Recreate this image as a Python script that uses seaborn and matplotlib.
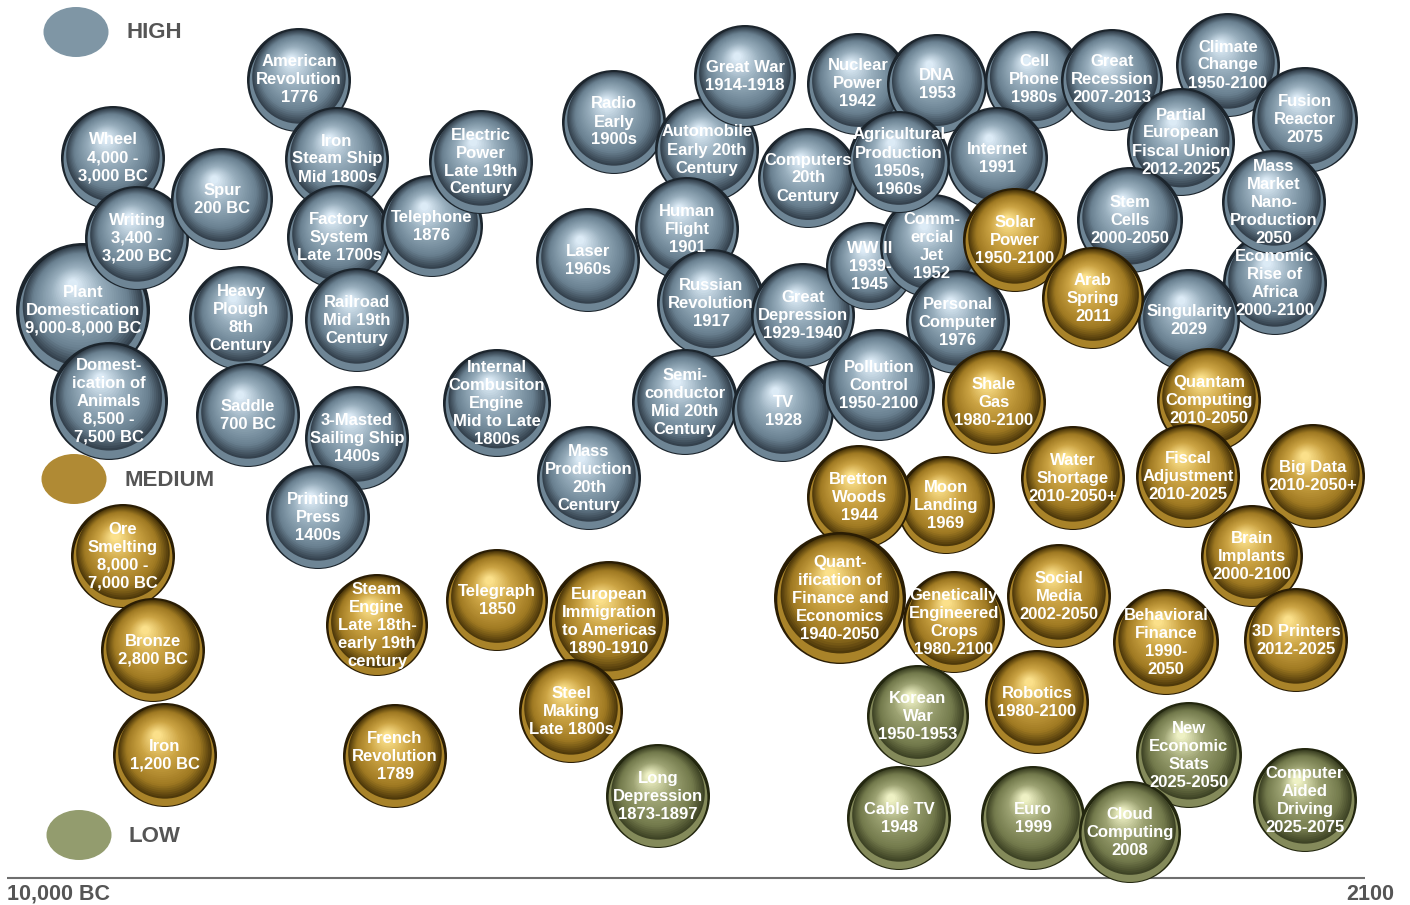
import matplotlib

matplotlib.use("Agg")
import matplotlib.pyplot as plt
import numpy as np
import pandas as pd
import seaborn as sns
from matplotlib.colors import to_rgb
from matplotlib.patches import Ellipse

DPI = 100
WIDTH, HEIGHT = 1410, 905
FONT = ["Liberation Sans", "DejaVu Sans"]

# ---- HIGH impact events (blue-grey) ----
HIGH_LABELS = [
    "American\nRevolution\n1776", "Wheel\n4,000 -\n3,000 BC", "Plant\nDomestication\n9,000-8,000 BC",
    "Writing\n3,400 -\n3,200 BC", "Spur\n200 BC", "Domest-\nication of\nAnimals\n8,500 -\n7,500 BC",
    "Heavy\nPlough\n8th\nCentury", "Saddle\n700 BC", "Iron\nSteam Ship\nMid 1800s",
    "Factory\nSystem\nLate 1700s", "Railroad\nMid 19th\nCentury", "3-Masted\nSailing Ship\n1400s",
    "Printing\nPress\n1400s", "Telephone\n1876", "Electric\nPower\nLate 19th\nCentury",
    "Internal\nCombusiton\nEngine\nMid to Late\n1800s", "Laser\n1960s", "Mass\nProduction\n20th\nCentury",
    "Radio\nEarly\n1900s", "Automobile\nEarly 20th\nCentury", "Great War\n1914-1918",
    "Human\nFlight\n1901", "Russian\nRevolution\n1917", "Semi-\nconductor\nMid 20th\nCentury",
    "Great\nDepression\n1929-1940", "TV\n1928", "Nuclear\nPower\n1942", "DNA\n1953",
    "Cell\nPhone\n1980s", "Internet\n1991", "Computers\n20th\nCentury", "WW II\n1939-\n1945",
    "Comm-\nercial\nJet\n1952", "Agricultural\nProduction\n1950s,\n1960s", "Personal\nComputer\n1976",
    "Pollution\nControl\n1950-2100", "Great\nRecession\n2007-2013", "Climate\nChange\n1950-2100",
    "Partial\nEuropean\nFiscal Union\n2012-2025", "Fusion\nReactor\n2075", "Stem\nCells\n2000-2050",
    "Economic\nRise of\nAfrica\n2000-2100", "Mass\nMarket\nNano-\nProduction\n2050", "Singularity\n2029",
]
HIGH_X = [299, 113, 83, 137, 222, 109, 241, 248, 337, 339, 357, 357, 318, 432, 481,
          497, 588, 589, 614, 707, 745, 687, 711, 685, 803, 783, 858, 937, 1034, 997,
          808, 870, 932, 899, 958, 879, 1112, 1228, 1181, 1305, 1130, 1275, 1274, 1189]
HIGH_Y = [80, 158, 310, 238, 199, 401, 318, 415, 159, 237, 320, 438, 517, 226, 162,
          403, 260, 478, 122, 150, 76, 229, 303, 402, 315, 411, 84, 84, 80, 158,
          178, 266, 246, 162, 322, 385, 80, 65, 142, 120, 220, 283, 202, 320]
HIGH_R = [52, 52, 67, 52, 51, 59, 52, 52, 52, 52, 52, 52, 52, 51, 52,
          54, 52, 52, 52, 52, 51, 52, 54, 53, 52, 51, 51, 50, 49, 51,
          50, 44, 52, 51, 52, 56, 51, 52, 54, 53, 53, 52, 52, 51]

# ---- MEDIUM impact events (gold) ----
MEDIUM_LABELS = [
    "Solar\nPower\n1950-2100", "Arab\nSpring\n2011", "Shale\nGas\n1980-2100", "Quantam\nComputing\n2010-2050",
    "Water\nShortage\n2010-2050+", "Fiscal\nAdjustment\n2010-2025", "Big Data\n2010-2050+",
    "Brain\nImplants\n2000-2100", "Moon\nLanding\n1969", "Bretton\nWoods\n1944",
    "Genetically\nEngineered\nCrops\n1980-2100", "Quant-\nification of\nFinance and\nEconomics\n1940-2050",
    "Social\nMedia\n2002-2050", "Behavioral\nFinance\n1990-\n2050", "3D Printers\n2012-2025",
    "Robotics\n1980-2100", "Ore\nSmelting\n8,000 -\n7,000 BC", "Bronze\n2,800 BC", "Iron\n1,200 BC",
    "Steam\nEngine\nLate 18th-\nearly 19th\ncentury", "Telegraph\n1850",
    "European\nImmigration\nto Americas\n1890-1910", "Steel\nMaking\nLate 1800s", "French\nRevolution\n1789",
]
MEDIUM_X = [1015, 1093, 994, 1209, 1073, 1188, 1313, 1252, 946, 859, 954, 840,
            1059, 1166, 1296, 1037, 123, 153, 165, 377, 497, 609, 571, 395]
MEDIUM_Y = [240, 298, 402, 400, 478, 476, 476, 556, 505, 497, 622, 598,
            596, 642, 640, 702, 556, 650, 755, 625, 600, 621, 711, 756]
MEDIUM_R = [52, 51, 52, 52, 52, 52, 52, 51, 49, 52, 51, 66,
            52, 53, 52, 52, 52, 52, 52, 51, 51, 60, 52, 52]

# ---- LOW impact events (olive) ----
LOW_LABELS = [
    "Long\nDepression\n1873-1897", "Korean\nWar\n1950-1953", "Cable TV\n1948", "Euro\n1999",
    "New\nEconomic\nStats\n2025-2050", "Cloud\nComputing\n2008", "Computer\nAided\nDriving\n2025-2075",
]
LOW_X = [658, 918, 899, 1033, 1189, 1130, 1305]
LOW_Y = [796, 716, 818, 818, 755, 832, 800]
LOW_R = [52, 51, 52, 52, 53, 51, 52]

LEVELS = ["HIGH", "MEDIUM", "LOW"]
LEGEND_COLORS = {"HIGH": "#7f96a5", "MEDIUM": "#b08a34", "LOW": "#939c6e"}
LEGEND_POS = {"HIGH": (76, 32), "MEDIUM": (74, 479), "LOW": (79, 835)}

# shading stops per level: outline, bottom rim, shell, body, light, highlight
SHADES = {
    "HIGH": ["#1c252d", "#6e8595", "#34414d", "#6a8191", "#98aebd", "#dcebf6"],
    "MEDIUM": ["#2a1d04", "#a98329", "#4e390a", "#a07a22", "#cca444", "#fbe08a"],
    "LOW": ["#23270f", "#848a5a", "#3e4325", "#737a4c", "#9ca272", "#eef1c4"],
}
N_LAYERS = 30


def mix(c1, c2, t):
    a, b = np.array(to_rgb(c1)), np.array(to_rgb(c2))
    return tuple(a + (b - a) * t)


def layer_palette(level):
    outline, rim, shell, body, light, high = SHADES[level]
    pal = {0: outline, 1: rim}
    for k in range(N_LAYERS):
        t = k / (N_LAYERS - 1)
        if t < 0.22:
            col = mix(shell, body, t / 0.22)
        elif t < 0.62:
            col = mix(body, light, (t - 0.22) / 0.4)
        else:
            col = mix(light, high, (t - 0.62) / 0.38)
        pal[k + 2] = col
    return pal


def sphere_frame(cx, cy, r):
    xs, ys, rs = [cx, cx], [cy, cy + 0.03 * r], [r, 0.95 * r]
    bx, by, br = cx, cy - 0.06 * r, 0.9 * r
    hx, hy = cx - 0.15 * r, cy - 0.38 * r
    for k in range(N_LAYERS):
        t = k / (N_LAYERS - 1)
        xs.append(bx + (hx - bx) * t)
        ys.append(by + (hy - by) * t)
        rs.append(br * (1 - t) + 0.08 * r * t)
    rs = np.array(rs)
    return pd.DataFrame({
        "x": xs,
        "y": ys,
        "s": (2 * rs * 72 / DPI) ** 2,
        "layer": np.arange(len(xs)),
    })


def main() -> None:
    sns.set_theme(style="white")
    plt.rcParams["font.family"] = FONT

    fig = plt.figure(figsize=(WIDTH / DPI, HEIGHT / DPI), dpi=DPI)
    ax = fig.add_axes([0, 0, 1, 1])

    groups = [
        ("HIGH", HIGH_LABELS, HIGH_X, HIGH_Y, HIGH_R),
        ("MEDIUM", MEDIUM_LABELS, MEDIUM_X, MEDIUM_Y, MEDIUM_R),
        ("LOW", LOW_LABELS, LOW_X, LOW_Y, LOW_R),
    ]
    z = 2
    for level, labels, xs, ys, rs in groups:
        pal = layer_palette(level)
        for label, x, y, r in zip(labels, xs, ys, rs):
            frame = sphere_frame(x, y, r)
            sns.scatterplot(
                data=frame, x="x", y="y", hue="layer", palette=pal,
                s=frame["s"].to_numpy(), linewidth=0, edgecolor="none",
                legend=False, ax=ax, zorder=z,
            )
            z += 1

    for level, labels, xs, ys, rs in groups:
        for label, x, y in zip(labels, xs, ys):
            ax.text(x, y, label, ha="center", va="center", multialignment="center",
                    color="white", fontsize=12, fontweight="bold", linespacing=1.25,
                    zorder=500)

    for level in LEVELS:
        ex, ey = LEGEND_POS[level]
        ax.add_patch(Ellipse((ex, ey), 65, 50, facecolor=LEGEND_COLORS[level],
                             edgecolor="none", zorder=2))
        ax.text(ex + 50, ey + 1, level, ha="left", va="center", color="#555555",
                fontsize=16, fontweight="bold")

    ax.hlines(878, 7, 1365, color="#6e6e6e", linewidth=1.5, zorder=1)
    ax.text(7, 894, "10,000 BC", ha="left", va="center", color="#555555",
            fontsize=15.5, fontweight="bold")
    ax.text(1394, 894, "2100", ha="right", va="center", color="#555555",
            fontsize=15.5, fontweight="bold")

    ax.set_xlim(0, WIDTH)
    ax.set_ylim(HEIGHT, 0)
    ax.axis("off")
    fig.savefig("out.png", dpi=DPI, facecolor="white")
    plt.close(fig)


if __name__ == "__main__":
    main()
